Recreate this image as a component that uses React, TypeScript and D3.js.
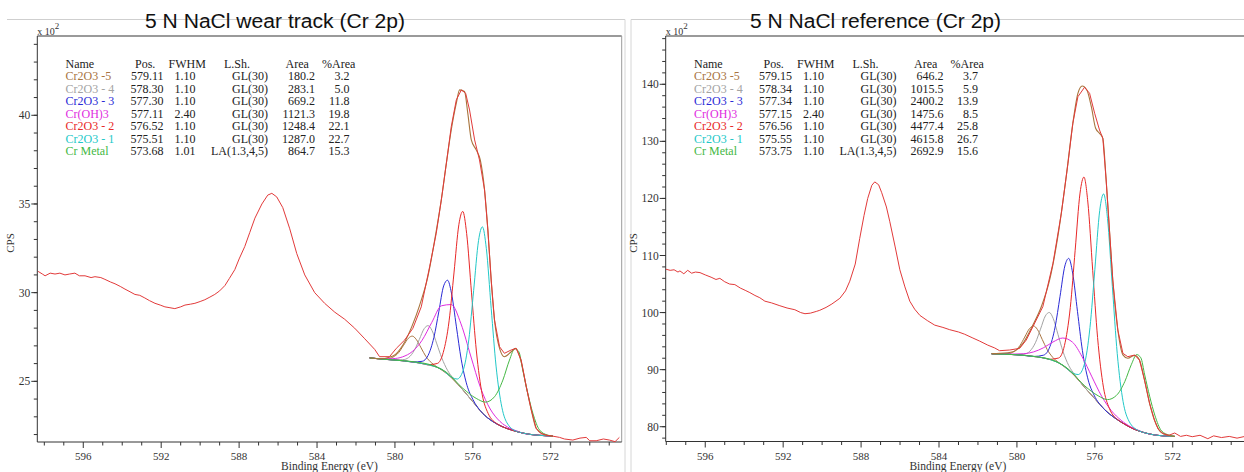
import React from "react";
import * as d3 from "d3";

type P = [number, number];

// ---------- table data ----------
const compNames = ["Cr2O3 -5", "Cr2O3 - 4", "Cr2O3 - 3", "Cr(OH)3", "Cr2O3 - 2", "Cr2O3 - 1", "Cr Metal"];
const compColors = ["#a8733f", "#a3a3a3", "#2a2ad6", "#e02ce0", "#e82828", "#22c8c8", "#44b844"];
const lineShapes = ["GL(30)", "GL(30)", "GL(30)", "GL(30)", "GL(30)", "GL(30)", "LA(1.3,4,5)"];
const wearPos = ["579.11", "578.30", "577.30", "577.11", "576.52", "575.51", "573.68"];
const wearFwhm = ["1.10", "1.10", "1.10", "2.40", "1.10", "1.10", "1.01"];
const wearArea = ["180.2", "283.1", "669.2", "1121.3", "1248.4", "1287.0", "864.7"];
const wearPct = ["3.2", "5.0", "11.8", "19.8", "22.1", "22.7", "15.3"];
const refPos = ["579.15", "578.34", "577.34", "577.15", "576.56", "575.55", "573.75"];
const refFwhm = ["1.10", "1.10", "1.10", "2.40", "1.10", "1.10", "1.10"];
const refArea = ["646.2", "1015.5", "2400.2", "1475.6", "4477.4", "4615.8", "2692.9"];
const refPct = ["3.7", "5.9", "13.9", "8.5", "25.8", "26.7", "15.6"];

// ---------- wear track spectra (eV, CPS x100) ----------
const wearSpectrum: P[] = [
  [598.32, 31.2], [598.1, 31.05], [597.96, 30.95], [597.7, 31.1], [597.45, 31.05], [597.2, 31.1], [596.94, 31.0], [596.7, 31.05],
  [596.43, 31.1], [596.2, 30.95], [595.91, 30.95], [595.6, 30.85], [595.4, 30.9], [595.1, 30.85], [594.89, 30.75], [594.6, 30.6],
  [594.37, 30.5], [594.1, 30.35], [593.86, 30.2], [593.6, 30.05], [593.35, 29.9], [593.1, 29.85], [592.84, 29.7], [592.6, 29.55],
  [592.32, 29.4], [592.05, 29.3], [591.81, 29.2], [591.55, 29.15], [591.3, 29.1], [591.0, 29.2], [590.78, 29.3], [590.5, 29.35],
  [590.27, 29.4], [590.0, 29.5], [589.76, 29.6], [589.5, 29.75], [589.25, 29.9], [589.0, 30.1], [588.73, 30.4], [588.5, 30.8],
  [588.22, 31.3], [588.0, 31.9], [587.71, 32.6], [587.45, 33.4], [587.19, 34.2], [586.83, 35.0], [586.53, 35.5], [586.32, 35.6],
  [586.07, 35.4], [585.76, 34.8], [585.4, 33.6], [585.04, 32.2], [584.63, 31.0], [584.12, 30.0], [583.61, 29.4], [583.09, 28.9],
  [582.58, 28.5], [582.07, 28.0], [581.55, 27.4], [581.04, 26.8], [580.79, 26.39], [580.28, 26.39], [579.93, 26.86], [579.5, 27.33],
  [579.08, 27.99], [578.65, 29.2], [578.22, 31.46], [577.88, 33.35], [577.62, 35.23], [577.36, 37.3], [577.11, 39.36], [576.85, 40.87],
  [576.59, 41.43], [576.37, 41.24], [576.17, 40.3], [575.91, 38.61], [575.66, 37.48], [575.4, 35.79], [575.23, 33.53], [575.06, 30.71],
  [574.89, 28.46], [574.63, 26.95], [574.38, 26.58], [574.03, 26.77], [573.78, 26.86], [573.52, 26.2], [573.26, 24.7], [573.0, 23.38],
  [572.75, 22.35], [572.5, 22.05], [572.24, 21.97], [571.9, 21.91], [571.55, 21.84], [571.3, 21.75], [570.87, 21.69], [570.5, 21.8],
  [570.18, 21.84], [570.0, 21.65], [569.67, 21.65], [569.3, 21.75], [568.99, 21.69], [568.7, 21.6], [568.48, 21.84],
];
const wearEnvelope: P[] = [
  [581.3, 26.33], [580.79, 26.27], [580.1, 26.43], [579.59, 27.05], [579.13, 28.1], [578.73, 29.3], [578.31, 30.9], [577.96, 32.97],
  [577.62, 35.23], [577.36, 37.3], [577.11, 39.17], [576.85, 40.68], [576.68, 41.43], [576.43, 41.34], [576.26, 40.11], [576.08, 38.61],
  [575.83, 38.05], [575.62, 37.48], [575.4, 35.79], [575.23, 33.53], [575.06, 30.71], [574.89, 28.46], [574.63, 26.86], [574.38, 26.39],
  [574.03, 26.67], [573.81, 26.86], [573.52, 26.1], [573.26, 24.7], [573.0, 23.38], [572.75, 22.35], [572.43, 22.05], [571.9, 21.91],
];
const wearBackground: P[] = [
  [581.3, 26.32], [581.0, 26.29], [580.5, 26.24], [580.0, 26.2], [579.5, 26.15], [579.0, 26.08], [578.5, 25.98], [578.0, 25.85],
  [577.5, 25.6], [577.0, 25.1], [576.5, 24.5], [576.0, 23.85], [575.5, 23.2], [575.0, 22.75], [574.5, 22.45], [574.0, 22.25],
  [573.5, 22.1], [573.0, 22.0], [572.5, 21.95], [571.9, 21.91],
];
const wearC5: P[] = [[580.91, 26.28], [580.41, 26.27], [580.11, 26.36], [579.81, 26.62], [579.56, 27.03], [579.31, 27.43], [579.11, 27.55], [578.91, 27.37], [578.66, 26.89], [578.41, 26.4], [578.11, 26.03], [577.81, 25.79], [577.31, 25.41]];
const wearC4: P[] = [[580.1, 26.21], [579.6, 26.22], [579.3, 26.34], [579.0, 26.76], [578.75, 27.36], [578.5, 27.97], [578.3, 28.14], [578.1, 27.87], [577.85, 27.11], [577.6, 26.33], [577.3, 25.62], [577.0, 25.16], [576.5, 24.5]];
const wearC3: P[] = [[579.1, 26.09], [578.6, 26.13], [578.3, 26.46], [578.0, 27.48], [577.75, 28.92], [577.5, 30.38], [577.3, 30.7], [577.1, 29.98], [576.85, 28.11], [576.6, 26.25], [576.3, 24.77], [576.0, 23.98], [575.5, 23.2]];
const wearOH: P[] = [[580.61, 26.27], [580.11, 26.28], [579.61, 26.38], [579.11, 26.68], [578.61, 27.31], [578.11, 28.32], [577.61, 29.26], [577.11, 29.33], [576.61, 28.24], [576.11, 26.43], [575.61, 24.65], [575.11, 23.44], [574.61, 22.74], [574.11, 22.36], [573.61, 22.15]];
const wearC2: P[] = [[578.32, 25.93], [577.82, 26.01], [577.52, 26.63], [577.22, 28.41], [576.97, 31.11], [576.72, 33.83], [576.52, 34.58], [576.32, 33.34], [576.07, 29.99], [575.82, 26.71], [575.52, 24.25], [575.22, 23.2], [574.72, 22.58]];
const wearC1: P[] = [[577.31, 25.41], [576.81, 25.13], [576.51, 25.58], [576.21, 27.34], [575.96, 30.12], [575.71, 32.93], [575.51, 33.71], [575.31, 32.5], [575.06, 29.12], [574.81, 25.86], [574.51, 23.53], [574.21, 22.59], [573.71, 22.16]];
const wearMetal: P[] = [[581.3, 26.32], [580.0, 26.2], [579.0, 26.1], [578.0, 25.87], [577.37, 25.52], [576.51, 24.6], [575.83, 24.04], [575.35, 23.83], [574.89, 24.13], [574.46, 25.07], [574.12, 26.2], [573.85, 26.84], [573.64, 26.67], [573.44, 25.64], [573.18, 24.32], [572.92, 23.2], [572.58, 22.26], [572.17, 21.97], [571.9, 21.91]];

// ---------- reference spectra (eV, CPS x100) ----------
const refSpectrum: P[] = [
  [598.02, 107.6], [597.8, 107.4], [597.6, 107.5], [597.4, 107.1], [597.3, 107.3], [597.1, 106.8], [596.9, 107.4], [596.7, 106.9],
  [596.5, 107.1], [596.27, 107.0], [596.0, 106.6], [595.7, 106.2], [595.45, 105.8], [595.25, 106.0], [595.0, 105.4], [594.75, 105.0],
  [594.48, 104.9], [594.2, 104.3], [593.95, 103.9], [593.71, 103.5], [593.45, 103.0], [593.2, 102.6], [592.94, 102.0], [592.6, 101.7],
  [592.17, 101.2], [591.8, 100.8], [591.4, 100.5], [591.1, 100.0], [590.88, 99.8], [590.6, 99.9], [590.3, 100.2], [590.12, 100.4],
  [589.8, 100.9], [589.5, 101.5], [589.09, 102.5], [588.8, 103.8], [588.58, 105.5], [588.3, 108.5], [588.07, 113.0], [587.85, 117.0],
  [587.66, 120.0], [587.45, 122.3], [587.3, 122.9], [587.1, 122.4], [586.94, 121.0], [586.7, 118.5], [586.53, 116.0], [586.25, 111.5],
  [586.01, 107.5], [585.75, 104.5], [585.5, 102.0], [585.25, 100.6], [584.98, 99.5], [584.6, 98.6], [584.22, 97.8], [583.8, 97.4],
  [583.45, 97.0], [583.0, 96.6], [582.68, 96.2], [582.3, 95.6], [581.91, 95.0], [581.5, 94.3], [581.14, 93.8], [580.89, 93.32],
  [580.37, 93.44], [579.86, 93.73], [579.52, 95.19], [579.18, 97.52], [578.67, 101.03], [578.15, 108.63], [577.72, 117.39], [577.38, 126.15],
  [577.13, 133.16], [576.87, 137.82], [576.53, 139.47], [576.27, 138.42], [576.01, 134.92], [575.76, 131.99], [575.59, 130.53], [575.42, 123.23],
  [575.25, 114.47], [575.08, 105.71], [574.82, 96.94], [574.56, 92.86], [574.31, 92.27], [573.96, 92.56], [573.71, 91.69], [573.45, 88.18],
  [573.19, 84.1], [572.94, 81.17], [572.75, 79.6], [572.5, 78.8], [572.2, 78.5], [571.9, 78.9], [571.6, 78.3], [571.3, 78.5],
  [571.0, 78.25], [570.6, 78.5], [570.2, 77.9], [569.9, 78.4], [569.5, 78.1], [569.1, 78.3], [568.7, 78.0], [568.3, 78.3],
];
const refEnvelope: P[] = [
  [581.3, 92.8], [580.89, 92.85], [580.2, 93.14], [579.69, 94.61], [579.18, 97.82], [578.75, 101.03], [578.32, 105.71], [577.9, 113.3],
  [577.47, 123.81], [577.13, 133.16], [576.87, 138.41], [576.65, 139.7], [576.41, 139.0], [576.18, 136.07], [575.96, 132.29], [575.76, 131.41],
  [575.59, 130.53], [575.42, 123.23], [575.25, 114.47], [575.08, 105.71], [574.82, 96.94], [574.56, 92.6], [574.31, 92.0], [573.96, 92.5],
  [573.71, 91.69], [573.45, 88.18], [573.19, 84.1], [572.94, 81.17], [572.6, 79.0], [572.2, 78.45], [571.9, 78.3],
];
const refBackground: P[] = [
  [581.3, 92.78], [581.0, 92.75], [580.5, 92.7], [580.0, 92.6], [579.5, 92.45], [579.0, 92.25], [578.5, 91.95], [578.0, 91.4],
  [577.5, 90.4], [577.0, 88.8], [576.5, 86.8], [576.0, 84.9], [575.5, 83.0], [575.0, 81.6], [574.5, 80.5], [574.0, 79.6],
  [573.5, 79.0], [573.0, 78.6], [572.5, 78.4], [571.9, 78.3],
];
const refC5: P[] = [[580.95, 92.75], [580.45, 92.82], [580.15, 93.18], [579.85, 94.2], [579.6, 95.7], [579.35, 97.21], [579.15, 97.66], [578.95, 97.05], [578.7, 95.29], [578.45, 93.54], [578.15, 92.11], [577.85, 91.23], [577.35, 89.93]];
const refC4: P[] = [[580.14, 92.63], [579.64, 92.7], [579.34, 93.22], [579.04, 94.8], [578.79, 97.09], [578.54, 99.41], [578.34, 100.02], [578.14, 98.99], [577.89, 96.15], [577.64, 93.23], [577.34, 90.72], [577.04, 89.14], [576.54, 86.96]];
const refC3: P[] = [[579.14, 92.31], [578.64, 92.53], [578.34, 93.75], [578.04, 97.46], [577.79, 102.78], [577.54, 108.16], [577.34, 109.49], [577.14, 106.93], [576.89, 100.16], [576.64, 93.38], [576.34, 88.17], [576.04, 85.54], [575.54, 83.15]];
const refOH: P[] = [[580.65, 92.75], [580.15, 92.73], [579.65, 92.79], [579.15, 93.1], [578.65, 93.81], [578.15, 94.84], [577.65, 95.54], [577.15, 94.82], [576.65, 92.24], [576.15, 88.74], [575.65, 85.34], [575.15, 82.81], [574.65, 81.12], [574.15, 79.96], [573.65, 79.21]];
const refC2: P[] = [[578.36, 91.8], [577.86, 92.04], [577.56, 94.23], [577.26, 100.9], [577.01, 110.92], [576.76, 120.94], [576.56, 123.74], [576.36, 119.37], [576.11, 107.41], [575.86, 95.64], [575.56, 86.94], [575.26, 83.25], [574.76, 81.07]];
const refC1: P[] = [[577.35, 89.92], [576.85, 89.14], [576.55, 90.8], [576.25, 97.39], [576.0, 107.54], [575.75, 117.87], [575.55, 120.79], [575.35, 116.5], [575.1, 104.52], [574.85, 92.81], [574.55, 84.41], [574.25, 80.99], [573.75, 79.3]];
const refMetal: P[] = [[581.3, 92.78], [580.0, 92.6], [579.0, 92.27], [578.0, 91.45], [577.37, 90.12], [576.51, 87.13], [575.83, 85.42], [575.35, 84.75], [574.89, 85.49], [574.46, 87.93], [574.12, 90.94], [573.85, 92.64], [573.64, 92.08], [573.44, 89.07], [573.18, 85.24], [572.92, 82.02], [572.58, 79.29], [572.17, 78.5], [571.9, 78.3]];

const xTickLabels = [596, 592, 588, 584, 580, 576, 572];

// ---------- layout ----------
const W = 1244;
const H = 472;
const SERIF = "'Liberation Serif', 'Times New Roman', serif";
const SANS = "'Liberation Sans', Arial, sans-serif";

const panels = [
  {
    key: "wear",
    title: "5 N NaCl wear track (Cr 2p)",
    titleX: 145, titleW: 260,
    frameL: 7, frameR: 625,
    plotL: 37.3, plotR: 621.7, top: 36, bottom: 442,
    xDom: [598.36, 568.36], yDom: [21.58, 44.47], yMajor: 4, yMinor: 25,
    tableDx: 0,
    pos: wearPos, fwhm: wearFwhm, area: wearArea, pct: wearPct,
    spectrum: wearSpectrum, envelope: wearEnvelope, background: wearBackground,
    comps: [wearC5, wearC4, wearC3, wearOH, wearC2, wearC1, wearMetal],
    cpsX: 14,
  },
  {
    key: "ref",
    title: "5 N NaCl reference (Cr 2p)",
    titleX: 750, titleW: 251,
    frameL: 631, frameR: null as number | null,
    plotL: 665.7, plotR: 1250.1, top: 36, bottom: 441.5,
    xDom: [598.03, 568.03], yDom: [77.41, 148.46], yMajor: 7, yMinor: 35,
    tableDx: 628.5,
    pos: refPos, fwhm: refFwhm, area: refArea, pct: refPct,
    spectrum: refSpectrum, envelope: refEnvelope, background: refBackground,
    comps: [refC5, refC4, refC3, refOH, refC2, refC1, refMetal],
    cpsX: 637,
  },
];

function withBackground(bg: P[], peak: P[]): P[] {
  const hi = d3.max(peak, (d) => d[0]) as number;
  const lo = d3.min(peak, (d) => d[0]) as number;
  return [...bg.filter((d) => d[0] > hi), ...peak, ...bg.filter((d) => d[0] < lo)];
}

function Panel({ p }: { p: (typeof panels)[number] }) {
  const x = d3.scaleLinear().domain(p.xDom).range([p.plotL, p.plotR]);
  const y = d3.scaleLinear().domain(p.yDom).range([p.bottom, p.top]);
  const smooth = d3.line<P>().x((d) => x(d[0])).y((d) => y(d[1])).curve(d3.curveMonotoneX);
  const raw = d3.line<P>().x((d) => x(d[0])).y((d) => y(d[1]));
  const xMinor = x.ticks(30);
  const yMajor = y.ticks(p.yMajor);
  const yMinor = y.ticks(p.yMinor);
  const cx = (p.plotL + p.plotR) / 2;
  const td = p.tableDx;
  const rowY = (i: number) => 67.5 + 12.5 * i;

  return (
    <g>
      {/* panel frame */}
      <line x1={p.frameL} x2={p.frameR ?? W} y1={19.5} y2={19.5} stroke="#cfcfcf" />
      {p.frameR !== null && <line x1={p.frameR} x2={p.frameR} y1={19.5} y2={H} stroke="#d6d6d6" />}
      {p.key === "ref" && <line x1={p.frameL} x2={p.frameL} y1={19.5} y2={H} stroke="#d6d6d6" />}
      <text x={p.titleX} y={28} fontFamily={SANS} fontSize={20} fill="#111" textLength={p.titleW} lengthAdjust="spacingAndGlyphs">
        {p.title}
      </text>

      {/* plot frame */}
      <line x1={p.plotL} x2={p.plotR} y1={p.top} y2={p.top} stroke="#9a9a9a" strokeWidth={2} />
      <line x1={p.plotR} x2={p.plotR} y1={p.top} y2={p.bottom} stroke="#9a9a9a" />
      <line x1={p.plotL} x2={p.plotL} y1={p.top} y2={p.bottom} stroke="#333" />
      <line x1={p.plotL} x2={p.plotR} y1={p.bottom} y2={p.bottom} stroke="#333" />

      {/* x ticks */}
      {xMinor.map((t) => {
        const major = xTickLabels.includes(t);
        return (
          <line key={"xt" + t} x1={x(t)} x2={x(t)} y1={p.bottom} y2={p.bottom + (major ? 6 : 3.5)} stroke="#333" />
        );
      })}
      {xTickLabels.map((t) => (
        <text key={"xl" + t} x={x(t)} y={459.5} textAnchor="middle" fontFamily={SERIF} fontSize={11} fill="#333">
          {t}
        </text>
      ))}
      <text x={cx} y={469.5} textAnchor="middle" fontFamily={SERIF} fontSize={11.5} fill="#333">
        Binding Energy (eV)
      </text>

      {/* y ticks */}
      {yMinor.map((t) => (
        <line key={"ym" + t} x1={p.plotL - 3.5} x2={p.plotL} y1={y(t)} y2={y(t)} stroke="#333" />
      ))}
      {yMajor.map((t) => (
        <g key={"yM" + t}>
          <line x1={p.plotL - 6} x2={p.plotL} y1={y(t)} y2={y(t)} stroke="#333" />
          <text x={p.plotL - 7} y={y(t) + 4} textAnchor="end" fontFamily={SERIF} fontSize={11.5} fill="#333">
            {t}
          </text>
        </g>
      ))}
      <text x={p.plotL} y={35} fontFamily={SERIF} fontSize={10} fill="#333">
        x 10
        <tspan dy={-6} fontSize={9}>2</tspan>
      </text>
      <text
        transform={`translate(${p.cpsX},243) rotate(-90)`}
        textAnchor="middle"
        fontFamily={SERIF}
        fontSize={11}
        fill="#333"
      >
        CPS
      </text>

      {/* curves */}
      <path d={smooth(p.background) || ""} fill="none" stroke="#a07850" strokeWidth={1} />
      {p.comps.map((c, i) => (
        <path key={"c" + i} d={smooth(withBackground(p.background, c)) || ""} fill="none" stroke={compColors[i]} strokeWidth={1} />
      ))}
      <path d={smooth(p.envelope) || ""} fill="none" stroke="#a8743c" strokeWidth={1.1} />
      <path d={raw(p.spectrum) || ""} fill="none" stroke="#e23a3a" strokeWidth={1} />

      {/* table */}
      <g fontFamily={SERIF} fontSize={12} fill="#222">
        <text x={65.5 + td} y={rowY(0)}>Name</text>
        <text x={135 + td} y={rowY(0)}>Pos.</text>
        <text x={168.5 + td} y={rowY(0)}>FWHM</text>
        <text x={224 + td} y={rowY(0)}>L.Sh.</text>
        <text x={285.5 + td} y={rowY(0)}>Area</text>
        <text x={322 + td} y={rowY(0)}>%Area</text>
        {compNames.map((n, i) => (
          <g key={"row" + i}>
            <text x={65.5 + td} y={rowY(i + 1)} fill={compColors[i]}>{n}</text>
            <text x={163.5 + td} y={rowY(i + 1)} textAnchor="end">{p.pos[i]}</text>
            <text x={195.5 + td} y={rowY(i + 1)} textAnchor="end">{p.fwhm[i]}</text>
            <text x={268 + td} y={rowY(i + 1)} textAnchor="end">{lineShapes[i]}</text>
            <text x={315 + td} y={rowY(i + 1)} textAnchor="end">{p.area[i]}</text>
            <text x={349.5 + td} y={rowY(i + 1)} textAnchor="end">{p.pct[i]}</text>
          </g>
        ))}
      </g>
    </g>
  );
}

export default function App() {
  return (
    <svg
      width={W}
      height={H}
      viewBox={`0 0 ${W} ${H}`}
      style={{ position: "absolute", left: 0, top: 0, background: "#fff" }}
    >
      <rect x={0} y={0} width={W} height={H} fill="#fff" />
      {panels.map((p) => (
        <Panel key={p.key} p={p} />
      ))}
    </svg>
  );
}
